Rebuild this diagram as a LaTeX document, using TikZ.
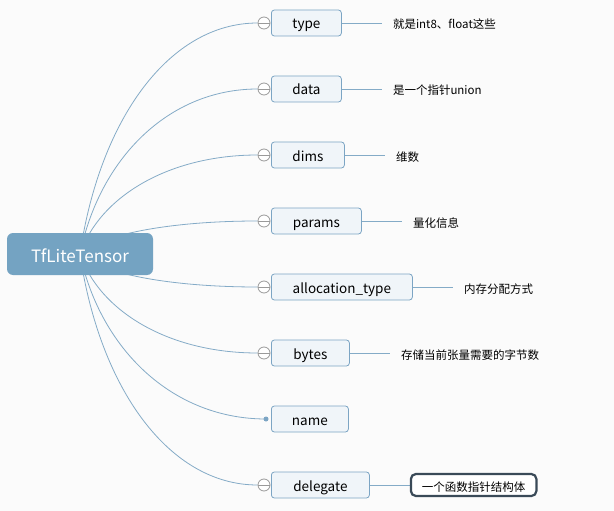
\documentclass[tikz,border=0pt]{standalone}
\usepackage{fontspec}
\setmainfont{Noto Sans CJK SC}
\usetikzlibrary{calc,backgrounds}
\definecolor{bg}{HTML}{FBFBFB}
\definecolor{rootc}{HTML}{74A3C2}
\definecolor{childfill}{HTML}{F0F5F9}
\definecolor{childborder}{HTML}{7CA5C4}
\definecolor{linkc}{HTML}{84ABC7}
\definecolor{togglec}{HTML}{9A9A9A}
\definecolor{darkbox}{HTML}{3A4A58}
\newcommand\mybranch[2]{\draw[link] let \p1=(#1), \p2=(#2) in (\p1) .. controls ({\x1+0.11*(\x2-\x1)},{\y1+0.58*(\y2-\y1)}) and ({\x1+0.5*(\x2-\x1)},{\y2}) .. (\p2);}
\begin{document}
\begin{tikzpicture}[x=1pt,y=-1pt,
  rootbox/.style={fill=rootc, rounded corners=6pt, minimum width=146pt, minimum height=42pt, inner sep=0pt, text=white, text height=16pt, text depth=0pt, font=\fontsize{17}{20}\selectfont},
  child/.style={draw=childborder, fill=childfill, rounded corners=3pt, line width=0.8pt, minimum height=26pt, anchor=west, inner sep=0pt, text height=13pt, text depth=1pt, font=\fontsize{13.5}{16}\selectfont},
  toggle/.style={circle, draw=togglec, fill=white, minimum size=12pt, inner sep=0pt, line width=0.8pt,
    path picture={\draw[togglec, line width=0.8pt] (path picture bounding box.west) -- (path picture bounding box.east);}},
  dot/.style={circle, fill=childborder, minimum size=5pt, inner sep=0pt},
  note/.style={anchor=west, inner xsep=11pt, inner ysep=2pt, text height=12pt, text depth=0pt, font=\fontsize{11.5}{14}\selectfont},
  framednote/.style={anchor=west, draw=darkbox, line width=2.2pt, fill=white, rounded corners=5pt, minimum height=22pt, inner xsep=11pt, inner ysep=0pt, text height=12pt, text depth=0pt, font=\fontsize{11.5}{14}\selectfont},
  link/.style={draw=linkc, line width=0.8pt}]

\node[rootbox] (root) at (80,254) {TfLiteTensor};

\node[child, minimum width=70pt] (ctype) at (271,23) {type};
\node[child, minimum width=70pt] (cdata) at (271,89) {data};
\node[child, minimum width=73pt] (cdims) at (271,155) {dims};
\node[child, minimum width=90pt] (cparams) at (271,221) {params};
\node[child, minimum width=141pt] (calloc) at (271,287) {allocation\_type};
\node[child, minimum width=78pt] (cbytes) at (271,353) {bytes};
\node[child, minimum width=77pt] (cname) at (271,419) {name};
\node[child, minimum width=98pt] (cdeleg) at (271,485) {delegate};

\node[toggle] (ttype) at (264,23) {};
\node[toggle] (tdata) at (264,89) {};
\node[toggle] (tdims) at (264,155) {};
\node[toggle] (tparams) at (264,221) {};
\node[toggle] (talloc) at (264,287) {};
\node[toggle] (tbytes) at (264,353) {};
\node[dot] (tname) at (266,419) {};
\node[toggle] (tdeleg) at (264,485) {};

\node[note] (ntype) at ($(ctype.east)+(40,0)$) {就是int8、float这些};
\node[note] (ndata) at ($(cdata.east)+(40,0)$) {是一个指针union};
\node[note] (ndims) at ($(cdims.east)+(40,0)$) {维数};
\node[note] (nparams) at ($(cparams.east)+(40,0)$) {量化信息};
\node[note] (nalloc) at ($(calloc.east)+(40,0)$) {内存分配方式};
\node[note] (nbytes) at ($(cbytes.east)+(40,0)$) {存储当前张量需要的字节数};
\node[framednote] (ndeleg) at ($(cdeleg.east)+(40,0)$) {一个函数指针结构体};

\begin{scope}[on background layer]
  \fill[bg] (0,0) rectangle (614,511);
  \mybranch{root.center}{ttype.west}
  \mybranch{root.center}{tdata.west}
  \mybranch{root.center}{tdims.west}
  \mybranch{root.center}{tparams.west}
  \mybranch{root.center}{talloc.west}
  \mybranch{root.center}{tbytes.west}
  \mybranch{root.center}{tname.center}
  \mybranch{root.center}{tdeleg.west}
  \draw[link] (ctype.east) -- (ntype.west);
  \draw[link] (cdata.east) -- (ndata.west);
  \draw[link] (cdims.east) -- (ndims.west);
  \draw[link] (cparams.east) -- (nparams.west);
  \draw[link] (calloc.east) -- (nalloc.west);
  \draw[link] (cbytes.east) -- (nbytes.west);
  \draw[link] (cdeleg.east) -- (ndeleg.west);
\end{scope}
\useasboundingbox (0,0) rectangle (614,511);
\end{tikzpicture}
\end{document}
